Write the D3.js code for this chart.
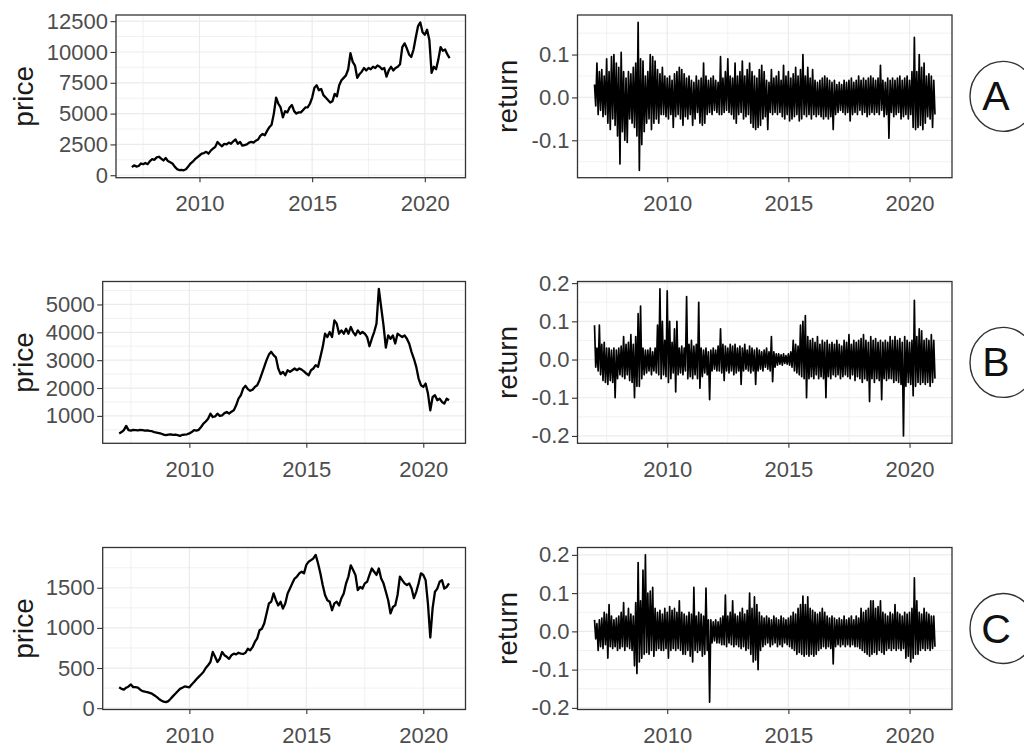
<!DOCTYPE html>
<html>
<head>
<meta charset="utf-8">
<script src="https://cdn.jsdelivr.net/npm/d3@7"></script>
<style>
  body { margin: 0; background: #fff; }
  svg { display: block; }
  text { font-family: "Liberation Sans", Arial, sans-serif; }
</style>
</head>
<body>
<svg id="chart" width="1024" height="749"></svg>
<script>
// ---- data: daily series sampled every 0.1 year, 2007.0 .. 2021.1 ----
const seriesStart = 2007.0;
const seriesStep = 0.1;

const priceA = [650,800,700,750,950,900,1000,900,1150,1300,1250,1450,1500,1350,1200,1400,1150,1050,950,700,
  500,420,430,400,480,700,950,1100,1300,1450,1600,1750,1800,1900,1750,2000,2150,2300,2700,2500,
  2350,2550,2500,2650,2550,2750,2900,2550,2700,2400,2450,2500,2650,2700,2650,2800,2900,3200,3350,3250,
  3600,3900,4100,5000,6300,5800,5500,4700,5200,5100,5500,5700,5200,5000,5100,5100,5300,5500,5500,5800,
  6300,7100,7300,6900,7000,6500,6300,6100,5900,6000,6600,6400,7300,7700,7900,8100,8600,9900,9200,8900,
  7900,8200,8400,8700,8500,8700,8600,8800,8700,8900,8800,8600,8700,8000,8500,8800,8500,8700,8800,9000,
  10400,10700,10300,9800,9600,10200,11200,12100,12400,11600,11400,11800,11000,8300,8800,8600,9400,10400,10100,10200,
  9800,9500];

const priceB = [370,420,490,640,490,470,500,490,480,500,490,470,480,460,450,420,400,380,360,330,
  310,330,340,320,330,310,280,320,330,340,370,420,490,470,500,600,720,800,900,1080,
  960,980,1080,1000,1020,1100,1140,1080,1150,1200,1380,1620,1740,1980,2080,1960,1900,1940,2040,2100,
  2280,2520,2760,3000,3200,3300,3180,3100,2700,2500,2580,2460,2640,2580,2640,2700,2640,2700,2660,2600,
  2520,2460,2640,2700,2820,2760,3110,3470,3950,3830,4010,3830,4430,4310,3950,4070,3950,4130,3950,4190,
  4010,3890,4070,3950,4010,3950,3830,3500,3770,4010,4310,5560,4900,4250,3450,3890,3770,3890,3600,3950,
  3890,3830,3890,3770,3590,3290,3050,2760,2340,2100,2040,2160,1800,1200,1680,1740,1560,1620,1500,1440,
  1620,1560];

const priceC = [260,240,230,255,270,295,262,262,255,230,212,205,200,190,180,160,140,115,96,80,
  75,88,117,150,180,210,240,255,270,265,260,295,325,360,390,420,450,500,535,575,
  700,640,575,615,700,660,640,615,660,680,670,690,680,675,690,740,720,760,825,870,
  970,990,1055,1180,1305,1325,1430,1345,1280,1325,1240,1305,1430,1490,1555,1615,1640,1680,1700,1680,
  1785,1825,1845,1865,1910,1805,1680,1535,1410,1345,1325,1220,1305,1325,1280,1370,1430,1555,1640,1780,
  1720,1660,1470,1510,1490,1555,1575,1660,1740,1700,1660,1740,1615,1555,1450,1345,1180,1260,1280,1410,
  1640,1595,1555,1535,1555,1490,1370,1450,1555,1680,1660,1595,1300,880,1250,1450,1490,1575,1595,1490,
  1510,1555];

// returns: [highest, lowest] daily return inside each 0.1-year slot, 2007.0 .. 2021.0
const returnA = [
  [0.03,-0.02],[0.08,-0.04],[0.06,-0.03],[0.065,-0.045],[0.05,-0.04],[0.09,-0.06],[0.06,-0.075],[0.095,-0.05],[0.1,-0.065],[0.08,-0.09],
  [0.07,-0.155],[0.105,-0.08],[0.06,-0.1],[0.045,-0.105],[0.06,-0.05],[0.055,-0.06],[0.07,-0.07],[0.08,-0.09],[0.175,-0.17],[0.09,-0.11],
  [0.085,-0.08],[0.05,-0.06],[0.06,-0.05],[0.1,-0.075],[0.095,-0.06],[0.085,-0.05],[0.065,-0.06],[0.055,-0.04],[0.07,-0.04],[0.05,-0.045],
  [0.045,-0.05],[0.05,-0.04],[0.04,-0.07],[0.055,-0.045],[0.06,-0.04],[0.07,-0.05],[0.065,-0.065],[0.055,-0.045],[0.045,-0.05],[0.05,-0.04],
  [0.04,-0.065],[0.035,-0.05],[0.05,-0.035],[0.04,-0.06],[0.045,-0.065],[0.08,-0.06],[0.05,-0.04],[0.04,-0.035],[0.045,-0.04],[0.05,-0.03],
  [0.04,-0.035],[0.035,-0.04],[0.095,-0.04],[0.045,-0.035],[0.06,-0.03],[0.09,-0.035],[0.05,-0.04],[0.045,-0.05],[0.08,-0.06],[0.05,-0.04],
  [0.06,-0.035],[0.085,-0.05],[0.05,-0.045],[0.065,-0.04],[0.08,-0.06],[0.06,-0.07],[0.05,-0.075],[0.045,-0.07],[0.065,-0.065],[0.075,-0.05],
  [0.06,-0.045],[0.04,-0.075],[0.035,-0.035],[0.065,-0.04],[0.045,-0.035],[0.05,-0.04],[0.06,-0.035],[0.04,-0.045],[0.075,-0.05],[0.05,-0.04],
  [0.06,-0.055],[0.045,-0.05],[0.055,-0.045],[0.07,-0.04],[0.05,-0.055],[0.065,-0.05],[0.1,-0.04],[0.05,-0.045],[0.07,-0.04],[0.045,-0.05],
  [0.065,-0.04],[0.04,-0.045],[0.035,-0.04],[0.04,-0.045],[0.045,-0.05],[0.05,-0.045],[0.045,-0.05],[0.04,-0.045],[0.035,-0.075],[0.04,-0.04],
  [0.03,-0.035],[0.035,-0.03],[0.03,-0.035],[0.04,-0.04],[0.035,-0.035],[0.04,-0.055],[0.045,-0.04],[0.035,-0.035],[0.04,-0.04],[0.05,-0.03],
  [0.04,-0.04],[0.045,-0.035],[0.04,-0.045],[0.045,-0.04],[0.05,-0.035],[0.045,-0.04],[0.04,-0.035],[0.045,-0.04],[0.075,-0.03],[0.04,-0.045],
  [0.035,-0.04],[0.045,-0.095],[0.04,-0.035],[0.045,-0.045],[0.04,-0.04],[0.045,-0.035],[0.05,-0.05],[0.04,-0.045],[0.045,-0.04],[0.05,-0.05],
  [0.04,-0.04],[0.06,-0.07],[0.14,-0.075],[0.06,-0.07],[0.1,-0.065],[0.07,-0.075],[0.08,-0.06],[0.05,-0.045],[0.055,-0.05],[0.05,-0.07],
  [0.04,-0.04]];

const returnB = [
  [0.09,-0.02],[0.03,-0.03],[0.09,-0.04],[0.04,-0.055],[0.045,-0.06],[0.03,-0.065],[0.03,-0.055],[0.025,-0.06],[0.03,-0.1],[0.025,-0.05],
  [0.03,-0.04],[0.035,-0.045],[0.06,-0.05],[0.04,-0.04],[0.045,-0.055],[0.065,-0.06],[0.04,-0.1],[0.06,-0.07],[0.12,-0.07],[0.14,-0.05],
  [0.03,-0.04],[0.025,-0.035],[0.025,-0.03],[0.03,-0.04],[0.02,-0.03],[0.03,-0.035],[0.09,-0.04],[0.185,-0.05],[0.1,-0.04],[0.05,-0.045],
  [0.18,-0.06],[0.1,-0.05],[0.045,-0.035],[0.08,-0.085],[0.1,-0.04],[0.03,-0.035],[0.035,-0.04],[0.03,-0.03],[0.165,-0.05],[0.04,-0.045],
  [0.05,-0.05],[0.035,-0.04],[0.04,-0.05],[0.15,-0.075],[0.03,-0.045],[0.025,-0.035],[0.03,-0.04],[0.02,-0.105],[0.025,-0.03],[0.03,-0.025],
  [0.025,-0.03],[0.035,-0.03],[0.08,-0.035],[0.04,-0.055],[0.035,-0.03],[0.03,-0.035],[0.04,-0.03],[0.035,-0.04],[0.04,-0.035],[0.03,-0.03],
  [0.035,-0.065],[0.03,-0.03],[0.04,-0.025],[0.025,-0.03],[0.035,-0.035],[0.03,-0.03],[0.025,-0.065],[0.03,-0.03],[0.025,-0.025],[0.02,-0.03],
  [0.025,-0.02],[0.03,-0.025],[0.02,-0.03],[0.06,-0.058],[0.02,-0.02],[0.015,-0.015],[0.015,-0.012],[0.012,-0.015],[0.015,-0.01],[0.01,-0.012],
  [0.015,-0.015],[0.02,-0.02],[0.05,-0.03],[0.04,-0.035],[0.035,-0.04],[0.09,-0.045],[0.1,-0.05],[0.115,-0.1],[0.06,-0.05],[0.05,-0.045],
  [0.055,-0.05],[0.045,-0.04],[0.06,-0.05],[0.04,-0.045],[0.05,-0.05],[0.045,-0.1],[0.05,-0.045],[0.04,-0.05],[0.045,-0.04],[0.04,-0.045],
  [0.05,-0.04],[0.04,-0.05],[0.035,-0.045],[0.05,-0.04],[0.045,-0.045],[0.065,-0.05],[0.04,-0.04],[0.05,-0.055],[0.045,-0.045],[0.05,-0.05],
  [0.055,-0.06],[0.065,-0.05],[0.05,-0.055],[0.045,-0.11],[0.06,-0.05],[0.05,-0.06],[0.055,-0.05],[0.045,-0.055],[0.05,-0.105],[0.045,-0.05],
  [0.05,-0.055],[0.045,-0.05],[0.06,-0.05],[0.05,-0.06],[0.06,-0.055],[0.05,-0.06],[0.055,-0.065],[0.045,-0.2],[0.06,-0.07],[0.05,-0.06],
  [0.045,-0.065],[0.05,-0.095],[0.155,-0.07],[0.06,-0.06],[0.08,-0.065],[0.075,-0.06],[0.05,-0.065],[0.055,-0.06],[0.05,-0.07],[0.065,-0.06],
  [0.05,-0.05]];

const returnC = [
  [0.03,-0.02],[0.02,-0.05],[0.03,-0.04],[0.035,-0.045],[0.05,-0.035],[0.045,-0.07],[0.07,-0.04],[0.04,-0.045],[0.03,-0.04],[0.035,-0.05],
  [0.04,-0.045],[0.05,-0.04],[0.075,-0.05],[0.04,-0.04],[0.06,-0.045],[0.045,-0.05],[0.04,-0.09],[0.075,-0.11],[0.18,-0.08],[0.08,-0.07],
  [0.16,-0.06],[0.2,-0.055],[0.1,-0.06],[0.105,-0.05],[0.115,-0.065],[0.06,-0.05],[0.05,-0.045],[0.055,-0.05],[0.045,-0.05],[0.06,-0.045],
  [0.05,-0.07],[0.065,-0.05],[0.055,-0.045],[0.06,-0.05],[0.05,-0.045],[0.08,-0.05],[0.05,-0.06],[0.045,-0.06],[0.04,-0.05],[0.05,-0.065],
  [0.045,-0.08],[0.115,-0.05],[0.04,-0.055],[0.05,-0.05],[0.045,-0.065],[0.04,-0.06],[0.113,-0.05],[0.03,-0.185],[0.03,-0.03],[0.025,-0.025],
  [0.03,-0.03],[0.025,-0.03],[0.035,-0.035],[0.04,-0.035],[0.095,-0.04],[0.04,-0.03],[0.05,-0.035],[0.08,-0.04],[0.045,-0.035],[0.04,-0.04],
  [0.05,-0.045],[0.06,-0.04],[0.045,-0.05],[0.055,-0.045],[0.1,-0.06],[0.06,-0.08],[0.09,-0.075],[0.07,-0.1],[0.05,-0.05],[0.04,-0.04],
  [0.035,-0.035],[0.04,-0.03],[0.035,-0.04],[0.03,-0.035],[0.04,-0.03],[0.035,-0.04],[0.03,-0.035],[0.04,-0.04],[0.035,-0.03],[0.03,-0.035],
  [0.035,-0.04],[0.04,-0.045],[0.05,-0.05],[0.045,-0.06],[0.06,-0.055],[0.07,-0.06],[0.092,-0.065],[0.07,-0.06],[0.09,-0.065],[0.06,-0.06],
  [0.055,-0.065],[0.05,-0.06],[0.045,-0.05],[0.05,-0.045],[0.06,-0.04],[0.05,-0.045],[0.04,-0.04],[0.035,-0.045],[0.04,-0.085],[0.035,-0.04],
  [0.03,-0.035],[0.035,-0.04],[0.03,-0.035],[0.04,-0.04],[0.03,-0.035],[0.035,-0.04],[0.04,-0.035],[0.03,-0.04],[0.04,-0.04],[0.035,-0.045],
  [0.06,-0.05],[0.05,-0.055],[0.055,-0.06],[0.06,-0.065],[0.08,-0.06],[0.08,-0.055],[0.06,-0.06],[0.065,-0.05],[0.08,-0.055],[0.05,-0.06],
  [0.045,-0.05],[0.04,-0.045],[0.05,-0.05],[0.045,-0.045],[0.07,-0.05],[0.05,-0.045],[0.045,-0.05],[0.04,-0.045],[0.05,-0.07],[0.045,-0.065],
  [0.05,-0.08],[0.06,-0.07],[0.14,-0.06],[0.08,-0.06],[0.05,-0.05],[0.045,-0.045],[0.06,-0.05],[0.05,-0.045],[0.045,-0.05],[0.04,-0.045],
  [0.04,-0.04]];

// ---- tick labels ----
const yearTicks = [2010, 2015, 2020];
const priceTicksA = [0, 2500, 5000, 7500, 10000, 12500];
const priceTicksB = [1000, 2000, 3000, 4000, 5000];
const priceTicksC = [0, 500, 1000, 1500];
const returnTicksA = [-0.1, 0.0, 0.1];
const returnTicksBC = [-0.2, -0.1, 0.0, 0.1, 0.2];
const panelLetters = ["A", "B", "C"];

// ---- layout ----
const rowTop = [15, 281.5, 547.5];
const rowBottom = [177.7, 443.3, 709.5];
const priceLeft = [116, 102.7, 102.7];
const priceRight = 465.5;
const returnLeft = 577.5;
const returnRight = 952;

const svg = d3.select("#chart");

function expand(ext) {
  const pad = (ext[1] - ext[0]) * 0.05;
  return [ext[0] - pad, ext[1] + pad];
}

function minorBreaks(major, domain) {
  const step = major[1] - major[0];
  const all = [major[0] - step, ...major, major[major.length - 1] + step];
  const out = [];
  for (let i = 0; i < all.length - 1; i++) {
    const m = (all[i] + all[i + 1]) / 2;
    if (m >= domain[0] && m <= domain[1]) out.push(m);
  }
  return out;
}

function drawPanel(opts) {
  const { x0, x1, y0, y1, points, yTicks, yFormat, title, titleX, lineWidth } = opts;
  const xs = d3.scaleLinear().domain(expand(d3.extent(points, d => d[0]))).range([x0, x1]);
  const ys = d3.scaleLinear().domain(expand(d3.extent(points, d => d[1]))).range([y1, y0]);
  const g = svg.append("g");

  // background
  g.append("rect").attr("x", x0).attr("y", y0).attr("width", x1 - x0).attr("height", y1 - y0)
    .attr("fill", "#fff");

  // grid
  const grid = g.append("g").attr("fill", "none").attr("stroke", "#ebebeb");
  minorBreaks(yearTicks, xs.domain()).forEach(v => {
    grid.append("line").attr("x1", xs(v)).attr("x2", xs(v)).attr("y1", y0).attr("y2", y1).attr("stroke-width", 0.7);
  });
  minorBreaks(yTicks, ys.domain()).forEach(v => {
    grid.append("line").attr("x1", x0).attr("x2", x1).attr("y1", ys(v)).attr("y2", ys(v)).attr("stroke-width", 0.7);
  });
  yearTicks.forEach(v => {
    grid.append("line").attr("x1", xs(v)).attr("x2", xs(v)).attr("y1", y0).attr("y2", y1).attr("stroke-width", 1.2);
  });
  yTicks.forEach(v => {
    grid.append("line").attr("x1", x0).attr("x2", x1).attr("y1", ys(v)).attr("y2", ys(v)).attr("stroke-width", 1.2);
  });

  // series
  g.append("path").datum(points)
    .attr("fill", "none").attr("stroke", "#000").attr("stroke-width", lineWidth)
    .attr("stroke-linejoin", "round")
    .attr("d", d3.line().x(d => xs(d[0])).y(d => ys(d[1])));

  // border
  g.append("rect").attr("x", x0).attr("y", y0).attr("width", x1 - x0).attr("height", y1 - y0)
    .attr("fill", "none").attr("stroke", "#333").attr("stroke-width", 1.3);

  // axes
  const ax = g.append("g").attr("transform", `translate(0,${y1})`)
    .call(d3.axisBottom(xs).tickValues(yearTicks).tickFormat(d3.format("d")).tickSize(4.5).tickPadding(13.5));
  const ay = g.append("g").attr("transform", `translate(${x0},0)`)
    .call(d3.axisLeft(ys).tickValues(yTicks).tickFormat(yFormat).tickSize(5.5).tickPadding(2.5));
  [ax, ay].forEach(a => {
    a.select(".domain").remove();
    a.selectAll(".tick line").attr("stroke", "#333").attr("stroke-width", 1.1);
    a.selectAll(".tick text").attr("fill", "#4d4d4d").attr("font-size", 22)
      .attr("font-family", "'Liberation Sans', Arial, sans-serif");
  });

  g.append("text")
    .attr("transform", `translate(${titleX},${(y0 + y1) / 2}) rotate(-90)`)
    .attr("text-anchor", "middle").attr("dominant-baseline", "central")
    .attr("font-size", 28).attr("fill", "#1a1a1a").text(title);
}

const priceSeries = [priceA, priceB, priceC];
const returnSeries = [returnA, returnB, returnC];
const priceTickSets = [priceTicksA, priceTicksB, priceTicksC];
const returnTickSets = [returnTicksA, returnTicksBC, returnTicksBC];

for (let r = 0; r < 3; r++) {
  const pricePts = priceSeries[r].map((v, i) => [seriesStart + i * seriesStep, v]);
  const returnPts = [];
  returnSeries[r].forEach((hl, i) => {
    const t = seriesStart + i * seriesStep;
    returnPts.push([t, hl[0]]);
    returnPts.push([t + seriesStep / 2, hl[1]]);
  });

  drawPanel({
    x0: priceLeft[r], x1: priceRight, y0: rowTop[r], y1: rowBottom[r],
    points: pricePts, yTicks: priceTickSets[r], yFormat: d3.format("d"),
    title: "price", titleX: 23, lineWidth: 2.3
  });
  drawPanel({
    x0: returnLeft, x1: returnRight, y0: rowTop[r], y1: rowBottom[r],
    points: returnPts, yTicks: returnTickSets[r], yFormat: v => v.toFixed(1),
    title: "return", titleX: 507, lineWidth: 1.7
  });

  // circled panel letter
  const cy = (rowTop[r] + rowBottom[r]) / 2;
  svg.append("ellipse").attr("cx", 1003).attr("cy", cy).attr("rx", 33).attr("ry", 35)
    .attr("fill", "none").attr("stroke", "#333").attr("stroke-width", 1.4);
  svg.append("text").attr("x", 996).attr("y", cy)
    .attr("text-anchor", "middle").attr("dominant-baseline", "central")
    .attr("font-size", 41).attr("fill", "#111").text(panelLetters[r]);
}
</script>
</body>
</html>
